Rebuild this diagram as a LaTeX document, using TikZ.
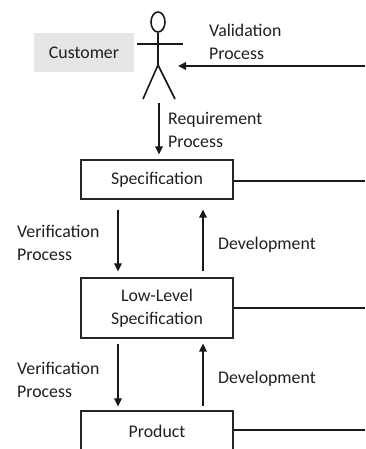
\documentclass[tikz,border=0pt]{standalone}
\usepackage{fontspec}
\setmainfont{Carlito}
\usetikzlibrary{arrows.meta,shapes.geometric}
\begin{document}
\begin{tikzpicture}[x=1pt,y=-1pt,
  every node/.style={font=\fontsize{17.8}{23}\selectfont, text=black!88},
  boxnode/.style={draw=black!85, line width=1.2pt, minimum width=152pt, inner sep=0pt},
  arr/.style={line width=1.8pt, draw=black!90, -{Triangle[length=8pt,width=7.5pt]}},
  plain/.style={line width=1.8pt, draw=black!90},
  lbl/.style={anchor=west, align=left, inner sep=0pt},
  fig/.style={line width=1.6pt, draw=black!90}]
\useasboundingbox (0,0) rectangle (365,449);
% customer
\node[fill=black!10, minimum width=100pt, minimum height=39pt, inner sep=0pt] (cust) at (84,53) {Customer};
% stick figure
\node[fig, draw, ellipse, minimum width=14pt, minimum height=20pt, inner sep=0pt] (head) at (158,22) {};
\coordinate (hip) at (158,65);
\coordinate (armL) at (137,44);
\coordinate (armR) at (183,44);
\coordinate (legL) at (143,99);
\coordinate (legR) at (175,99);
\draw[fig] (head.south) -- (hip);
\draw[fig] (armL) -- (armR);
\draw[fig] (legL) -- (hip) -- (legR);
% boxes
\node[boxnode, minimum height=39pt] (spec) at (157,179.5) {Specification};
\node[boxnode, minimum height=60pt, align=center] (low) at (157,308) {Low-Level\\Specification};
\node[boxnode, minimum height=40pt] (prod) at (157,431) {Product};
% validation
\coordinate (valR) at (365,66);
\coordinate (valT) at (178,66);
\draw[arr] (valR) -- (valT);
\node[lbl] (valtxt) at (209,42) {Validation\\Process};
% requirement
\coordinate (reqS) at (159,103);
\draw[arr, shorten >=5pt] (reqS) -- (reqS |- spec.north);
\node[lbl] (reqtxt) at (168,130) {Requirement\\Process};
% right lines
\coordinate (r1) at (365,181);
\coordinate (r2) at (365,308);
\coordinate (r3) at (365,430);
\draw[plain] (spec.east |- r1) -- (r1);
\draw[plain] (low.east |- r2) -- (r2);
\draw[plain] (prod.east |- r3) -- (r3);
% verification / development
\coordinate (vx) at (118,0);
\coordinate (dx) at (203,0);
\draw[arr, shorten <=10pt, shorten >=6pt] (vx |- spec.south) -- (vx |- low.north);
\draw[arr, shorten <=6pt, shorten >=10pt] (dx |- low.north) -- (dx |- spec.south);
\draw[arr, shorten <=5pt, shorten >=4pt] (vx |- low.south) -- (vx |- prod.north);
\draw[arr, shorten <=4pt, shorten >=5pt] (dx |- prod.north) -- (dx |- low.south);
\node[lbl] (ver1) at (17,243) {Verification\\Process};
\node[lbl] (dev1) at (218,245) {Development};
\node[lbl] (ver2) at (17,380) {Verification\\Process};
\node[lbl] (dev2) at (218,379) {Development};
\end{tikzpicture}
\end{document}
